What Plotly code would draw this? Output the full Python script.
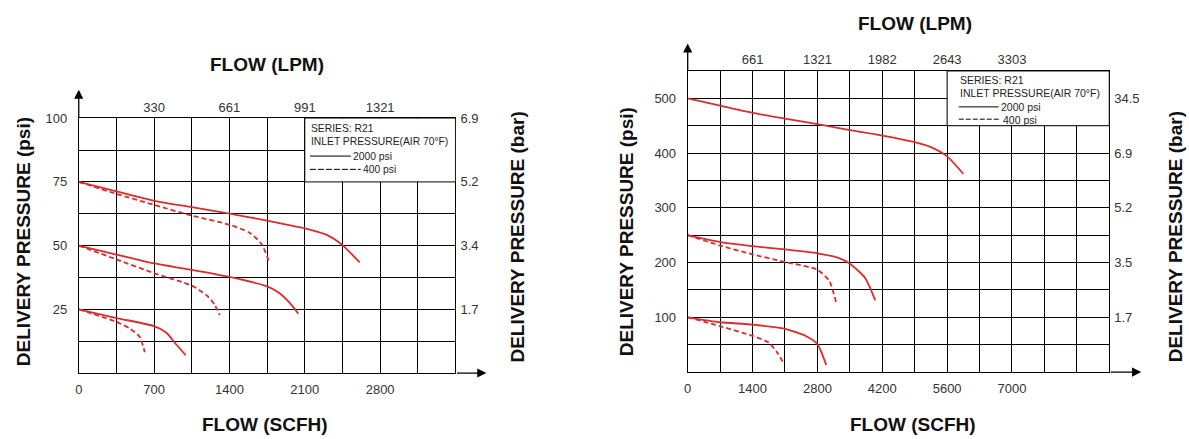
import plotly.graph_objects as go

W, H = 1189, 439

# ---------------- data (left chart, SCFH vs psi) ----------------
L_X_RANGE = [0, 3500]
L_Y_RANGE = [0, 100]
L_X_GRID = [0, 350, 700, 1050, 1400, 1750, 2100, 2450, 2800, 3150, 3500]
L_X_LABELS = ["0", "", "700", "", "1400", "", "2100", "", "2800", "", ""]
L_Y_GRID = [0, 12.5, 25, 37.5, 50, 62.5, 75, 87.5, 100]
L_Y_LABELS = ["", "", "25", "", "50", "", "75", "", "100"]
L_TOP_VALS = [700, 1400, 2100, 2800]
L_TOP_LABELS = ["330", "661", "991", "1321"]
L_BAR_VALS = [25, 50, 75, 100]
L_BAR_LABELS = ["1.7", "3.4", "5.2", "6.9"]

l75_solid_x = [0, 350, 700, 1050, 1400, 1750, 2100, 2300, 2450, 2610]
l75_solid_y = [75, 71.3, 67.6, 65.1, 62.6, 59.8, 56.8, 54.3, 50.2, 43.4]
l75_dash_x = [0, 350, 700, 1050, 1400, 1590, 1700, 1770]
l75_dash_y = [75, 70.3, 66.0, 61.8, 58.2, 55.0, 50.5, 43.5]
l50_solid_x = [0, 350, 700, 1050, 1400, 1750, 1860, 1960, 2040]
l50_solid_y = [50, 46.5, 43.0, 40.5, 37.7, 34.0, 31.5, 27.5, 23.3]
l50_dash_x = [0, 350, 700, 1050, 1186, 1260, 1310]
l50_dash_y = [50, 44.6, 39.2, 34.3, 30.6, 27.0, 22.7]
l25_solid_x = [0, 350, 700, 815, 900, 994]
l25_solid_y = [25, 21.6, 18.4, 15.8, 11.5, 7.0]
l25_dash_x = [0, 350, 474, 567, 613]
l25_dash_y = [25, 20.1, 17.5, 14.2, 8.2]

# ---------------- data (right chart) ----------------
R_X_RANGE = [0, 9100]
R_Y_RANGE = [0, 550]
R_X_GRID = [700 * i for i in range(14)]
R_X_LABELS = ["0", "", "1400", "", "2800", "", "4200", "", "5600", "", "7000", "", "", ""]
R_Y_GRID = [50 * i for i in range(12)]
R_Y_LABELS = ["", "", "100", "", "200", "", "300", "", "400", "", "500", ""]
R_TOP_VALS = [1400, 2800, 4200, 5600, 7000]
R_TOP_LABELS = ["661", "1321", "1982", "2643", "3303"]
R_BAR_VALS = [100, 200, 300, 400, 500]
R_BAR_LABELS = ["1.7", "3.5", "5.2", "6.9", "34.5"]

r500_solid_x = [0, 700, 1400, 2100, 2800, 3500, 4200, 4900, 5250, 5600, 5950]
r500_solid_y = [500, 486.5, 473.5, 463, 453, 442, 432, 420, 411, 394, 362]
r250_solid_x = [0, 700, 1400, 2100, 2800, 3240, 3500, 3830, 4050]
r250_solid_y = [250, 237.3, 230, 224, 217, 209, 198, 172, 131]
r250_dash_x = [0, 700, 1400, 2100, 2800, 3060, 3210]
r250_dash_y = [250, 231, 215, 201, 187, 166, 125]
r100_solid_x = [0, 700, 1400, 2100, 2550, 2800, 2990]
r100_solid_y = [100, 91, 86.8, 79, 66, 51, 13]
r100_dash_x = [0, 700, 1400, 1750, 1930, 2080]
r100_dash_y = [100, 84, 66, 54, 36, 15]

RED = "#de2c2a"
FONT = "Liberation Sans, Arial, sans-serif"
TICKC = "#333333"


def px(x):
    return x / W


def py(y):
    return 1 - y / H


fig = go.Figure()


def curve(x, y, xa, ya, dashed):
    fig.add_trace(go.Scatter(
        x=x, y=y, xaxis=xa, yaxis=ya, mode="lines",
        line=dict(color=RED, width=1.8, dash="5px,3px" if dashed else "solid",
                  shape="spline", smoothing=0.6),
        showlegend=False, hoverinfo="skip"))


curve(l75_solid_x, l75_solid_y, "x", "y", False)
curve(l75_dash_x, l75_dash_y, "x", "y", True)
curve(l50_solid_x, l50_solid_y, "x", "y", False)
curve(l50_dash_x, l50_dash_y, "x", "y", True)
curve(l25_solid_x, l25_solid_y, "x", "y", False)
curve(l25_dash_x, l25_dash_y, "x", "y", True)

curve(r500_solid_x, r500_solid_y, "x2", "y2", False)
curve(r250_solid_x, r250_solid_y, "x2", "y2", False)
curve(r250_dash_x, r250_dash_y, "x2", "y2", True)
curve(r100_solid_x, r100_solid_y, "x2", "y2", False)
curve(r100_dash_x, r100_dash_y, "x2", "y2", True)

# invisible traces to activate overlay axes
fig.add_trace(go.Scatter(x=[None], y=[None], xaxis="x3", yaxis="y3", showlegend=False, hoverinfo="skip"))
fig.add_trace(go.Scatter(x=[None], y=[None], xaxis="x4", yaxis="y4", showlegend=False, hoverinfo="skip"))

L_DOM_X = [px(75), px(453)]
L_DOM_Y = [py(372), py(113)]
R_DOM_X = [px(686), px(1109)]
R_DOM_Y = [py(371), py(65)]

tickfont = dict(family=FONT, size=13, color=TICKC)
grid_common = dict(showgrid=True, gridcolor="black", gridwidth=1, showline=True,
                   linecolor="black", linewidth=1, mirror=True, zeroline=False,
                   ticks="", tickmode="array", tickfont=tickfont, fixedrange=True)

fig.update_layout(
    width=W, height=H, margin=dict(l=0, r=0, t=0, b=0),
    paper_bgcolor="white", plot_bgcolor="white", showlegend=False,
    xaxis=dict(domain=L_DOM_X, range=L_X_RANGE, anchor="y", tickvals=L_X_GRID,
               ticktext=L_X_LABELS, ticklabelstandoff=4, **grid_common),
    yaxis=dict(domain=L_DOM_Y, range=L_Y_RANGE, anchor="x", tickvals=L_Y_GRID,
               ticktext=L_Y_LABELS, ticklabelstandoff=8, **grid_common),
    xaxis2=dict(domain=R_DOM_X, range=R_X_RANGE, anchor="y2", tickvals=R_X_GRID,
                ticktext=R_X_LABELS, ticklabelstandoff=4, **grid_common),
    yaxis2=dict(domain=R_DOM_Y, range=R_Y_RANGE, anchor="x2", tickvals=R_Y_GRID,
                ticktext=R_Y_LABELS, ticklabelstandoff=8, **grid_common),
    xaxis3=dict(overlaying="x", side="top", anchor="y3", range=L_X_RANGE, tickmode="array",
                tickvals=L_TOP_VALS, ticktext=L_TOP_LABELS, showgrid=False, showline=False,
                zeroline=False, ticks="", tickfont=tickfont, ticklabelstandoff=3, fixedrange=True),
    yaxis3=dict(overlaying="y", side="right", anchor="x3", range=L_Y_RANGE, tickmode="array",
                tickvals=L_BAR_VALS, ticktext=L_BAR_LABELS, showgrid=False, showline=False,
                zeroline=False, ticks="", tickfont=tickfont, ticklabelstandoff=4, fixedrange=True),
    xaxis4=dict(overlaying="x2", side="top", anchor="y4", range=R_X_RANGE, tickmode="array",
                tickvals=R_TOP_VALS, ticktext=R_TOP_LABELS, showgrid=False, showline=False,
                zeroline=False, ticks="", tickfont=tickfont, ticklabelstandoff=3, fixedrange=True),
    yaxis4=dict(overlaying="y2", side="right", anchor="x4", range=R_Y_RANGE, tickmode="array",
                tickvals=R_BAR_VALS, ticktext=R_BAR_LABELS, showgrid=False, showline=False,
                zeroline=False, ticks="", tickfont=tickfont, ticklabelstandoff=4, fixedrange=True),
)

# legend boxes (white, cover grid)
shapes = [
    dict(type="rect", xref="x", yref="y", x0=2100, x1=3500, y0=75, y1=100,
         fillcolor="white", line=dict(color="black", width=1), layer="above"),
    dict(type="rect", xref="x2", yref="y2", x0=5600, x1=9100, y0=450, y1=550,
         fillcolor="white", line=dict(color="black", width=1), layer="above"),
    # legend sample lines (left)
    dict(type="line", xref="paper", yref="paper", x0=px(307), x1=px(348), y0=py(151.5), y1=py(151.5),
         line=dict(color="black", width=1), layer="above"),
    dict(type="line", xref="paper", yref="paper", x0=px(307), x1=px(358), y0=py(165), y1=py(165),
         line=dict(color="black", width=1, dash="6px,2px"), layer="above"),
    # legend sample lines (right)
    dict(type="line", xref="paper", yref="paper", x0=px(958), x1=px(998), y0=py(101.5), y1=py(101.5),
         line=dict(color="black", width=1), layer="above"),
    dict(type="line", xref="paper", yref="paper", x0=px(958), x1=px(1000), y0=py(114), y1=py(114),
         line=dict(color="black", width=1, dash="5px,2px"), layer="above"),
]
fig.update_layout(shapes=shapes)

ann = []


def text(x, y, s, size=10, bold=False, angle=0, xanchor="left", color="#222222"):
    ann.append(dict(x=px(x), y=py(y), xref="paper", yref="paper", text=("<b>%s</b>" % s) if bold else s,
                    showarrow=False, textangle=angle, xanchor=xanchor, yanchor="middle",
                    font=dict(family=FONT, size=size, color=color)))


def arrow(x, y, ax, ay):
    ann.append(dict(x=px(x), y=py(y), xref="paper", yref="paper", text="", showarrow=True,
                    ax=ax, ay=ay, arrowhead=2, arrowsize=1.4, arrowwidth=1.3, arrowcolor="black"))


# left legend text
text(306, 123, "SERIES: R21", 10.3)
text(306, 137, "INLET PRESSURE(AIR 70°F)", 10.3)
text(348, 151.5, "2000 psi", 10.3)
text(358, 165.5, "400 psi", 10.3)
# right legend text
text(957, 74.5, "SERIES: R21", 10.5)
text(957, 87.5, "INLET PRESSURE(AIR 70°F)", 10.5)
text(998, 101.5, "2000 psi", 10.5)
text(1000, 114.5, "400 psi", 10.5)

# titles
TS = 19
text(264, 58, "FLOW (LPM)", TS, True, xanchor="center", color="#111111")
text(262, 424, "FLOW (SCFH)", TS, True, xanchor="center", color="#111111")
text(19, 238, "DELIVERY PRESSURE (psi)", TS, True, -90, xanchor="center", color="#111111")
text(515, 234, "DELIVERY PRESSURE (bar)", TS, True, -90, xanchor="center", color="#111111")
text(914, 17, "FLOW (LPM)", TS, True, xanchor="center", color="#111111")
text(912, 424, "FLOW (SCFH)", TS, True, xanchor="center", color="#111111")
text(624, 228, "DELIVERY PRESSURE (psi)", TS, True, -90, xanchor="center", color="#111111")
text(1175, 234, "DELIVERY PRESSURE (bar)", TS, True, -90, xanchor="center", color="#111111")

# axis arrows
arrow(75, 84, 0, 29)
arrow(484, 372, -31, 0)
arrow(686, 37, 0, 28)
arrow(1141, 371, -32, 0)

fig.update_layout(annotations=ann)

fig.write_html("out.html", config={"displayModeBar": False, "staticPlot": True},
               post_script="document.body.style.margin='0';document.body.style.overflow='hidden';")
